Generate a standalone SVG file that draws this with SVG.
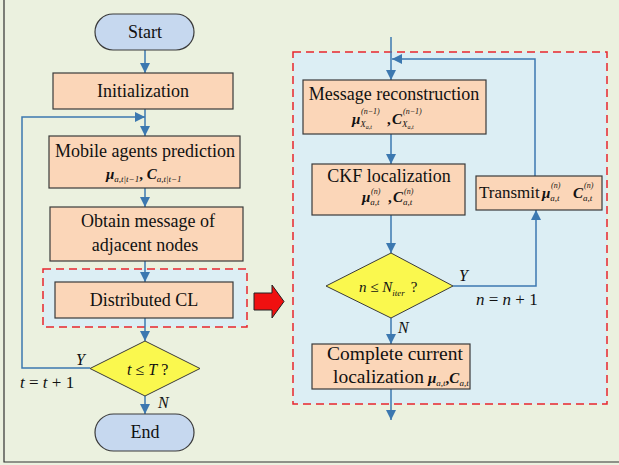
<svg xmlns="http://www.w3.org/2000/svg" width="619" height="465" viewBox="0 0 619 465" font-family="'Liberation Serif','Times New Roman',serif">
  <defs>
    <marker id="ah" viewBox="0 0 10 10" refX="10" refY="5" markerWidth="10" markerHeight="10" markerUnits="userSpaceOnUse" orient="auto">
      <path d="M0,0 L10,5 L0,10 Z" fill="#3C78B0"/>
    </marker>
    <style>
      .bg{fill:#EBF1DF}
      .frame{stroke:#333;stroke-width:1.2;fill:none}
      .box{fill:#FBD6B8;stroke:#3A3A3A;stroke-width:1.2}
      .term{fill:#C6D8EF;stroke:#3A3A3A;stroke-width:1.2}
      .dec{fill:#FAF84E;stroke:#3A3A3A;stroke-width:1}
      .zone{fill:#DCEEF4;stroke:#E8262E;stroke-width:1.5;stroke-dasharray:8,5}
      .ln{fill:none;stroke:#3C78B0;stroke-width:1.5}
      .arr{marker-end:url(#ah)}
      text{font-family:"Liberation Serif","Times New Roman",serif;fill:#111}
      .t{font-size:18px}
      .c{text-anchor:middle}
      .i{font-style:italic}
      .m{font-style:italic;font-size:16px}
      .mb{font-style:italic;font-weight:bold;font-size:15px}
      .sub{font-style:italic;font-size:9px;font-weight:normal}
      .sup{font-style:italic;font-size:8px;font-weight:normal}
      .tiny{font-size:6px}
      .cm{font-weight:bold;font-size:15px}
    </style>
  </defs>

  <!-- canvas -->
  <rect class="bg" x="0" y="0" width="619" height="465"/>
  <path class="frame" d="M4,0 V462 H619"/>

  <!-- highlighted sub-process zones -->
  <rect class="zone" x="43" y="269" width="204" height="58"/>
  <rect class="zone" x="293" y="52" width="314" height="352"/>

  <!-- expansion arrow -->
  <path d="M254,293 H272 V285 L284,301.5 L272,318 V310 H254 Z" fill="#F01010" stroke="#222" stroke-width="1"/>

  <!-- connectors -->
  <g id="connectors">
    <path class="ln arr" d="M145,50 V73"/>
    <path class="ln arr" d="M145,109 V136"/>
    <path class="ln arr" d="M145,188 V207"/>
    <path class="ln arr" d="M145,261 V282"/>
    <path class="ln arr" d="M145,318 V341"/>
    <path class="ln arr" d="M145,396 V414"/>
    <path class="ln arr" d="M90,368 H22 V117 H145"/>

    <path class="ln arr" d="M391,37 V80"/>
    <path class="ln arr" d="M391,134 V164"/>
    <path class="ln arr" d="M391,215 V253"/>
    <path class="ln arr" d="M391,318 V344"/>
    <path class="ln arr" d="M391,389 V420"/>
    <path class="ln arr" d="M453,286 H536 V210"/>
    <path class="ln arr" d="M535,176 V59 H392"/>
  </g>

  <!-- main loop -->
  <g id="start">
    <rect class="term" x="95" y="14" width="99" height="36" rx="18" ry="18"/>
    <text class="t c" x="145" y="38">Start</text>
  </g>
  <g id="init">
    <rect class="box" x="53" y="73" width="180" height="36"/>
    <text class="t c" x="143" y="97">Initialization</text>
  </g>
  <g id="predict">
    <rect class="box" x="49" y="136" width="191" height="52"/>
    <text class="t c" x="145" y="157">Mobile agents prediction</text>
    <text x="106" y="179" class="mb">μ<tspan class="sub" dy="3">a,t|t−1</tspan><tspan class="cm" font-style="normal" dy="-3">, </tspan>C<tspan class="sub" dy="3">a,t|t−1</tspan></text>
  </g>
  <g id="obtain">
    <rect class="box" x="50" y="207" width="193" height="54"/>
    <text class="t c" x="148" y="227">Obtain message of</text>
    <text class="t c" x="145" y="251">adjacent nodes</text>
  </g>
  <g id="dcl">
    <rect class="box" x="55" y="282" width="178" height="36"/>
    <text class="t c" x="144" y="306">Distributed CL</text>
  </g>
  <g id="check-t">
    <path class="dec" d="M145,341 L200,368.5 L145,396 L90,368.5 Z"/>
    <text x="127" y="375" font-size="16"><tspan class="i">t</tspan> ≤ <tspan class="i">T</tspan> ?</text>
    <text class="m" x="76" y="365">Y</text>
    <text x="20" y="388" font-size="17"><tspan class="i">t</tspan> = <tspan class="i">t</tspan> + 1</text>
    <text class="m" x="158" y="408">N</text>
  </g>
  <g id="end">
    <rect class="term" x="95" y="414" width="99" height="37" rx="18.5" ry="18.5"/>
    <text class="t c" x="145" y="438">End</text>
  </g>

  <!-- distributed CL detail -->
  <g id="reconstruct">
    <rect class="box" x="303" y="80" width="183" height="54"/>
    <text class="t c" x="394" y="100">Message reconstruction</text>
    <text x="352" y="124" class="mb">μ<tspan class="sub" dy="3">X</tspan><tspan class="sub tiny" dy="2">a,t</tspan></text>
    <text x="361" y="114" class="sup">(n−1)</text>
    <text x="387" y="124" class="cm">,</text>
    <text x="392" y="124" class="mb">C<tspan class="sub" dy="3">X</tspan><tspan class="sub tiny" dy="2">a,t</tspan></text>
    <text x="403" y="114" class="sup">(n−1)</text>
  </g>
  <g id="ckf">
    <rect class="box" x="312" y="164" width="153" height="51"/>
    <text class="t c" x="389" y="182">CKF localization</text>
    <text x="362" y="202" class="mb">μ<tspan class="sub" dy="3">a,t</tspan></text>
    <text x="371" y="194" class="sup">(n)</text>
    <text x="388" y="202" class="cm">,</text>
    <text x="393" y="202" class="mb">C<tspan class="sub" dy="3">a,t</tspan></text>
    <text x="404" y="194" class="sup">(n)</text>
  </g>
  <g id="transmit">
    <rect class="box" x="476" y="176" width="126" height="34"/>
    <text x="479" y="198" font-size="17">Transmit</text>
    <text x="542" y="198" class="mb">μ<tspan class="sub" dy="3">a,t</tspan></text>
    <text x="551" y="188" class="sup">(n)</text>
    <text x="573" y="198" class="mb">C<tspan class="sub" dy="3">a,t</tspan></text>
    <text x="584" y="188" class="sup">(n)</text>
  </g>
  <g id="check-n">
    <path class="dec" d="M391,253 L453,286 L391,318 L326,286 Z"/>
    <text x="359" y="292" font-size="15"><tspan class="i">n</tspan> ≤ <tspan class="i">N</tspan><tspan class="sub" dy="4">iter</tspan><tspan dx="6" dy="-4">?</tspan></text>
    <text class="m" x="459" y="281">Y</text>
    <text x="476" y="305" font-size="17"><tspan class="i">n</tspan> = <tspan class="i">n</tspan> + 1</text>
    <text class="m" x="398" y="333">N</text>
  </g>
  <g id="complete">
    <rect class="box" x="312" y="344" width="158" height="45"/>
    <text x="327" y="360" font-size="19.5">Complete current</text>
    <text x="333" y="383" font-size="19.5">localization</text>
    <text x="428" y="383" class="mb">μ<tspan class="sub" dy="3">a,t</tspan><tspan class="cm" font-style="normal" dy="-3">,</tspan>C<tspan class="sub" dy="3">a,t</tspan></text>
  </g>
</svg>
